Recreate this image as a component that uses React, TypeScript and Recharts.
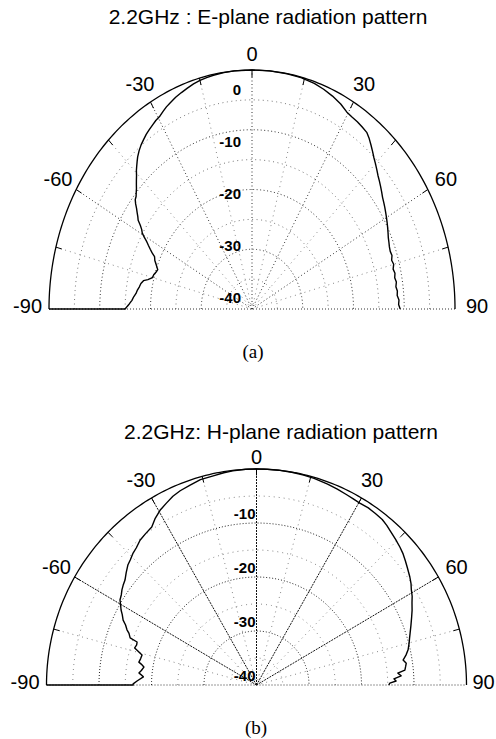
import React from 'react';
import { ScatterChart, Scatter, XAxis, YAxis } from 'recharts';

// ---------------- data ----------------
const R_MIN = -40; // dB at centre
const R_MAX = 0; // dB at outer ring
const RINGS_MAJOR = [-30, -20, -10];
const RINGS_MINOR = [-35, -25, -15, -5];
const RADIAL_LABELS_E = [0, -10, -20, -30, -40];
const RADIAL_LABELS_H = [-10, -20, -30, -40];
const ANGLE_LABELS = [-90, -60, -30, 0, 30, 60, 90];
const SPOKES_MAJOR = [-60, -30, 0, 30, 60];
const SPOKES_MINOR = [-75, -45, -15, 15, 45, 75];
const RIM_TICKS = [-75, -60, -45, -30, -15, 0, 15, 30, 45, 60, 75];

const TITLE_E = '2.2GHz : E-plane radiation pattern';
const TITLE_H = '2.2GHz: H-plane radiation pattern';
const CAPTION_E = '(a)';
const CAPTION_H = '(b)';

// [angle (deg), level (dB)]
const E_PLANE: [number, number][] = [
  [-90, 0], [-90, -6.1], [-90, -15.0], [-89, -15.4], [-88, -15.8], [-86.5, -16.3], [-85, -16.6],
  [-83.5, -17.0], [-82, -17.2], [-80.5, -17.5], [-79, -17.7], [-77.5, -18.1], [-76.5, -18.9],
  [-75, -19.7], [-73.5, -19.8], [-72, -20.1], [-70.5, -20.3], [-69.5, -20.0], [-68.5, -19.7],
  [-67, -19.2], [-65.5, -18.9], [-64.5, -18.2], [-63.5, -17.6], [-62.5, -17.0], [-61.5, -16.4],
  [-60.5, -15.6], [-59.5, -14.9], [-58.5, -14.5], [-57.5, -13.9], [-56.5, -13.1], [-55.5, -12.7],
  [-54.5, -12.2], [-53.5, -11.7], [-52.5, -11.1], [-51.5, -10.6], [-50.5, -10.4], [-49.5, -10.0],
  [-48.5, -9.6], [-47.5, -9.1], [-46.5, -8.6], [-45.5, -8.1], [-44.5, -7.5], [-43.5, -7.0],
  [-42.5, -6.5], [-41.5, -6.0], [-40, -5.4], [-38.5, -4.9], [-37, -4.5], [-35.5, -4.1], [-34, -3.8],
  [-32.5, -3.5], [-31, -3.2], [-29.5, -3.0], [-28, -2.6], [-26.5, -2.2], [-25, -1.9], [-23, -1.5],
  [-21, -1.2], [-19, -0.9], [-17, -0.6], [-15, -0.4], [-13, -0.25], [-11, -0.15], [-8, -0.05],
  [-5, 0], [0, 0], [5, 0], [10, -0.05], [14, -0.1], [18, -0.3], [21, -0.6], [24, -1.0], [27, -1.5],
  [29.5, -2.1], [31.5, -2.3], [33.5, -2.4], [35.5, -2.6], [37.5, -2.8], [39, -3.3], [40.5, -3.9],
  [42, -4.5], [43.5, -5.1], [45, -5.6], [46.5, -6.1], [48, -6.6], [49.5, -7.0], [51, -7.4],
  [52.5, -7.8], [54, -8.2], [55.5, -8.5], [57, -8.8], [58.5, -9.1], [60, -9.4], [61.5, -9.7],
  [63, -10.0], [64.5, -10.3], [66, -10.6], [67.5, -10.8], [69, -11.0], [70.5, -11.1], [72, -11.0],
  [73.5, -11.3], [75, -11.1], [76.5, -11.4], [78, -11.2], [79.5, -11.4], [81, -11.2], [82.5, -11.4],
  [84, -11.2], [85.5, -11.3], [87, -11.0], [88.5, -11.1], [90, -10.8],
];

const H_PLANE: [number, number][] = [
  [-90, 0], [-90, -7.9], [-90, -16.5], [-89.5, -16.5], [-88, -17.3], [-86, -18.4], [-85, -17.9],
  [-84.3, -17.5], [-83, -17.9], [-81.2, -18.3], [-80, -17.7], [-79.3, -17.2], [-77.5, -17.4],
  [-75.7, -17.5], [-74.5, -16.6], [-73.5, -15.8], [-72, -16.0], [-70.7, -15.9], [-70.1, -14.4],
  [-68.5, -13.9], [-67.5, -13.3], [-66, -12.7], [-64.7, -11.9], [-63, -11.3], [-61.7, -10.7],
  [-60, -10.1], [-58.8, -9.6], [-57, -9.3], [-55.5, -8.9], [-54, -8.6], [-52.2, -8.3], [-50, -7.6],
  [-47.7, -6.9], [-46, -6.6], [-43.9, -6.1], [-42, -5.8], [-39.6, -5.2], [-37, -4.9], [-34.3, -4.6],
  [-32, -3.6], [-29.6, -2.8], [-27, -2.2], [-24.5, -1.6], [-22, -1.2], [-19, -0.9], [-15.7, -0.5],
  [-12, -0.4], [-9, -0.2], [-6.5, -0.1], [-3, 0], [0, 0], [3, 0], [6, 0], [10, -0.05], [13, -0.1],
  [16, -0.2], [20, -0.4], [23, -0.6], [26, -0.8], [28, -0.9], [30.3, -1.0], [33, -0.9], [35.5, -1.0],
  [38, -1.1], [40, -1.4], [42, -1.8], [44.5, -2.2], [46.9, -2.6], [49, -3.0], [51, -3.5], [53, -4.0],
  [55.6, -4.6], [57.5, -5.1], [59, -5.6], [61, -6.1], [62.8, -6.7], [65, -7.3], [67, -7.9],
  [69.5, -8.6], [71.8, -9.2], [73.5, -9.6], [75, -9.9], [77.3, -10.4], [79, -11.0], [80.6, -11.7],
  [82, -11.2], [83.2, -11.4], [84.4, -11.6], [85.3, -13.0], [86.5, -12.4], [87.5, -13.8],
  [88.4, -13.4], [89.2, -14.6], [90, -14.8],
];

// ---------------- helpers ----------------
const FONT = '"Liberation Sans", Arial, Helvetica, sans-serif';

const norm = (db: number) => Math.max(0, (db - R_MIN) / (R_MAX - R_MIN));
const toXY = (ang: number, db: number) => {
  const r = norm(db);
  const t = (ang * Math.PI) / 180;
  return { x: r * Math.sin(t), y: r * Math.cos(t) };
};
const arc = (db: number) => {
  const pts = [];
  for (let a = -90; a <= 90; a += 1) pts.push(toXY(a, db));
  return pts;
};
const spoke = (ang: number) => [toXY(ang, R_MIN), toXY(ang, R_MAX)];

const Nothing = () => <g />;

type PlotCfg = {
  width: number;
  height: number;
  cx: number;
  cy: number;
  rx: number;
  ry: number;
  data: [number, number][];
  radialLabels: number[];
  variant: 'E' | 'H';
};

const PolarHalf = ({ cfg }: { cfg: PlotCfg }) => {
  const { width, height, cx, cy, rx, ry, data, radialLabels, variant } = cfg;
  const xDomain = [-cx / rx, (width - cx) / rx];
  const yDomain = [-(height - cy) / ry, cy / ry];
  const trace = data.map(([a, d]) => toXY(a, d));

  const dotted = (stroke: string, dash: string, w = 1) => ({
    stroke,
    strokeWidth: w,
    strokeDasharray: dash,
    fill: 'none',
  });

  const ringMajorStyle = variant === 'E' ? dotted('#333', '1 2.5', 1) : dotted('#222', '1 2', 1);
  const ringMinorStyle = variant === 'E' ? dotted('#777', '1 3.5', 1) : dotted('#888', '1 4', 1);
  const spokeMajorStyle = variant === 'E' ? dotted('#333', '1 2.5', 1) : dotted('#111', '2 1', 1);
  const spokeMinorStyle = dotted('#888', '1 4', 1);

  const angleLabelData = ANGLE_LABELS.map((a) => ({ ...toXY(a, R_MAX), a }));
  const radialLabelData = radialLabels.map((d) => {
    const r = norm(d);
    return { x: 0, y: variant === 'E' ? 0.87 * r + 0.05 : r, d };
  });

  const AngleLabel = (p: any) => {
    const a = p.payload.a;
    const t = (a * Math.PI) / 180;
    if (Math.abs(a) === 90) {
      const gap = a > 0 ? (variant === 'E' ? 11 : 6) : 7;
      return (
        <text
          x={p.cx + (a > 0 ? gap : -gap)}
          y={p.cy - 3}
          textAnchor={a > 0 ? 'start' : 'end'}
          dominantBaseline="central"
          fontFamily={FONT}
          fontSize={20}
          fill="#000"
        >
          {a}
        </text>
      );
    }
    const off = a === 0 ? (variant === 'E' ? 16 : 12) : 21;
    const x = p.cx + off * Math.sin(t);
    const y = p.cy - off * Math.cos(t);
    return (
      <text x={x} y={y} textAnchor="middle" dominantBaseline="central" fontFamily={FONT} fontSize={20} fill="#000">
        {a}
      </text>
    );
  };
  const RadialLabel = (p: any) => {
    const x = p.cx - (variant === 'E' ? 11 : 1);
    const y = p.cy - (variant === 'E' ? 0 : 10);
    return (
      <text x={x} y={y} textAnchor="end" dominantBaseline="central" fontFamily={FONT} fontSize={15} fontWeight="bold" fill="#000">
        {p.payload.d}
      </text>
    );
  };

  return (
    <ScatterChart width={width} height={height} margin={{ top: 0, right: 0, bottom: 0, left: 0 }}>
      <XAxis type="number" dataKey="x" domain={xDomain} hide allowDataOverflow />
      <YAxis type="number" dataKey="y" domain={yDomain} hide allowDataOverflow />
      {RINGS_MINOR.map((d) => (
        <Scatter key={'rm' + d} data={arc(d)} line={ringMinorStyle} shape={Nothing} isAnimationActive={false} />
      ))}
      {RINGS_MAJOR.map((d) => (
        <Scatter key={'rM' + d} data={arc(d)} line={ringMajorStyle} shape={Nothing} isAnimationActive={false} />
      ))}
      {SPOKES_MINOR.map((a) => (
        <Scatter key={'sm' + a} data={spoke(a)} line={spokeMinorStyle} shape={Nothing} isAnimationActive={false} />
      ))}
      {SPOKES_MAJOR.map((a) => (
        <Scatter key={'sM' + a} data={spoke(a)} line={spokeMajorStyle} shape={Nothing} isAnimationActive={false} />
      ))}
      <Scatter data={[toXY(-90, R_MAX), toXY(90, R_MAX)]} line={dotted('#333', '1 2', 1)} shape={Nothing} isAnimationActive={false} />
      {RIM_TICKS.map((a) => (
        <Scatter
          key={'t' + a}
          data={[toXY(a, R_MAX - 1.2), toXY(a, R_MAX)]}
          line={{ stroke: '#000', strokeWidth: 1 }}
          shape={Nothing}
          isAnimationActive={false}
        />
      ))}
      <Scatter data={arc(R_MAX)} line={{ stroke: '#000', strokeWidth: 1.3, fill: 'none' }} shape={Nothing} isAnimationActive={false} />
      <Scatter data={trace} line={{ stroke: '#000', strokeWidth: 1.4, fill: 'none', strokeLinejoin: 'round' }} shape={Nothing} isAnimationActive={false} />
      <Scatter data={radialLabelData} shape={RadialLabel} isAnimationActive={false} />
      <Scatter data={angleLabelData} shape={AngleLabel} isAnimationActive={false} />
    </ScatterChart>
  );
};

const TOP: PlotCfg = {
  width: 496, height: 370, cx: 252, cy: 309, rx: 203, ry: 239,
  data: E_PLANE, radialLabels: RADIAL_LABELS_E, variant: 'E',
};
const BOTTOM: PlotCfg = {
  width: 496, height: 369, cx: 256.5, cy: 315, rx: 210, ry: 216,
  data: H_PLANE, radialLabels: RADIAL_LABELS_H, variant: 'H',
};

const abs = (left: number, top: number): React.CSSProperties => ({ position: 'absolute', left, top });

export default function App() {
  return (
    <div style={{ position: 'absolute', left: 0, top: 0, width: 496, height: 739, background: '#fff', overflow: 'hidden' }}>
      <div style={abs(0, 0)}>
        <PolarHalf cfg={TOP} />
      </div>
      <div style={abs(0, 370)}>
        <PolarHalf cfg={BOTTOM} />
      </div>
      <div style={{ ...abs(0, 4), width: 536, textAlign: 'center', fontFamily: FONT, fontSize: 21, lineHeight: '26px', color: '#000' }}>
        {TITLE_E}
      </div>
      <div style={{ ...abs(0, 419), width: 562, textAlign: 'center', fontFamily: FONT, fontSize: 21, lineHeight: '26px', color: '#000' }}>
        {TITLE_H}
      </div>
      <div style={{ ...abs(0, 340), width: 506, textAlign: 'center', fontFamily: '"Liberation Serif", "Times New Roman", serif', fontSize: 19, lineHeight: '24px', color: '#000' }}>
        {CAPTION_E}
      </div>
      <div style={{ ...abs(0, 716), width: 512, textAlign: 'center', fontFamily: '"Liberation Serif", "Times New Roman", serif', fontSize: 19, lineHeight: '24px', color: '#000' }}>
        {CAPTION_H}
      </div>
    </div>
  );
}
